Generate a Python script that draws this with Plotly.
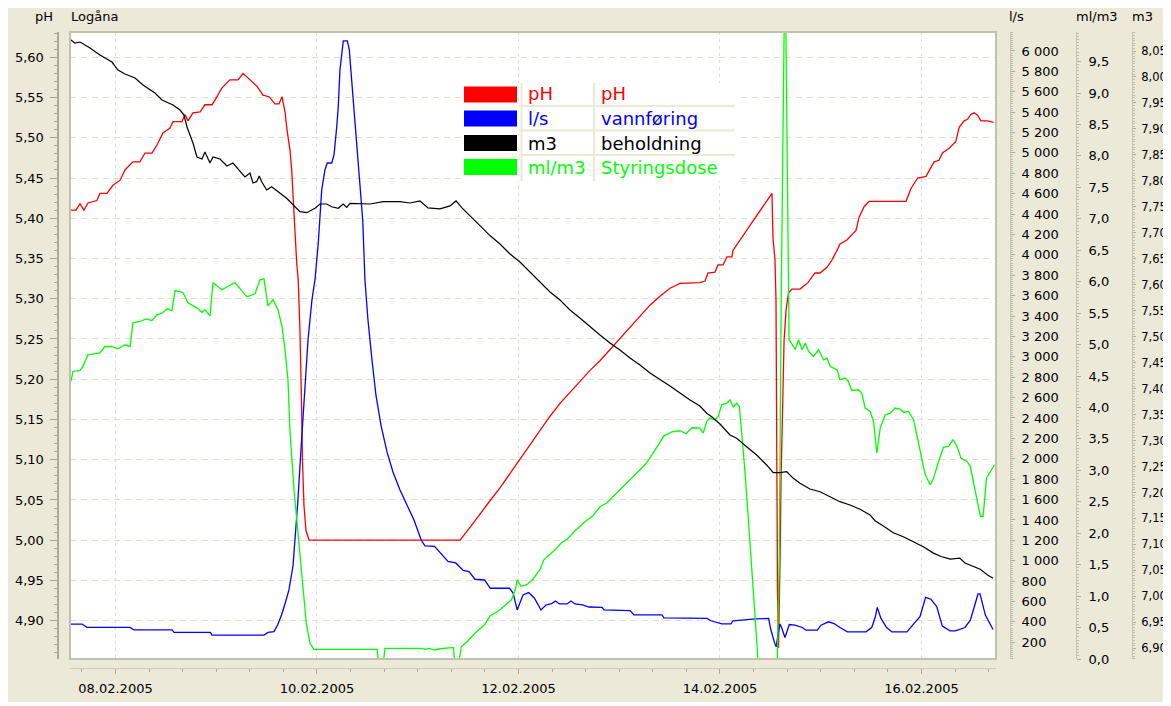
import numpy as np
import pandas as pd
import plotly.graph_objects as go

START = pd.Timestamp("2005-02-07")

# ---------------- data (time in days since 07.02.2005 00:00) ----------------
ph_days = [0.548, 0.608, 0.648, 0.687, 0.727, 0.777, 0.816, 0.846, 0.916, 0.975, 1.045, 1.094, 1.174, 1.243,
           1.293, 1.362, 1.412, 1.471, 1.541, 1.571, 1.660, 1.690, 1.720, 1.769, 1.839, 1.888, 1.958, 2.007,
           2.057, 2.136, 2.216, 2.266, 2.335, 2.404, 2.464, 2.524, 2.583, 2.623, 2.653, 2.683, 2.702, 2.732,
           2.749, 2.765, 2.782, 2.799, 2.814, 2.831, 2.846, 2.856, 2.871, 2.891, 2.921, 4.420, 4.519, 4.618,
           4.717, 4.816, 4.916, 5.015, 5.114, 5.213, 5.313, 5.412, 5.511, 5.610, 5.710, 5.809, 5.908, 6.007,
           6.107, 6.206, 6.305, 6.404, 6.504, 6.603, 6.752, 6.801, 6.851, 6.881, 6.950, 6.980, 7.030, 7.069,
           7.119, 7.129, 7.298, 7.516, 7.526, 7.546, 7.556, 7.561, 7.571, 7.581, 7.591, 7.596, 7.606, 7.621,
           7.636, 7.656, 7.670, 7.680, 7.712, 7.794, 7.844, 7.873, 7.943, 7.992, 8.062, 8.111, 8.161, 8.191,
           8.260, 8.320, 8.350, 8.380, 8.429, 8.479, 8.846, 8.896, 8.962, 9.045, 9.125, 9.174, 9.208, 9.274,
           9.340, 9.374, 9.424, 9.457, 9.490, 9.523, 9.556, 9.590, 9.656, 9.715]
ph_vals = [5.410, 5.410, 5.418, 5.410, 5.419, 5.421, 5.422, 5.431, 5.431, 5.441, 5.447, 5.460, 5.470, 5.470,
           5.481, 5.481, 5.491, 5.506, 5.512, 5.520, 5.520, 5.529, 5.521, 5.531, 5.532, 5.541, 5.541, 5.551,
           5.562, 5.572, 5.572, 5.580, 5.572, 5.564, 5.553, 5.551, 5.542, 5.542, 5.551, 5.532, 5.510, 5.485,
           5.460, 5.419, 5.376, 5.344, 5.323, 5.261, 5.174, 5.099, 5.043, 5.012, 5.000, 5.000, 5.016, 5.033,
           5.049, 5.065, 5.083, 5.102, 5.119, 5.136, 5.154, 5.170, 5.184, 5.197, 5.211, 5.223, 5.237, 5.251,
           5.264, 5.278, 5.292, 5.303, 5.313, 5.319, 5.320, 5.320, 5.322, 5.332, 5.333, 5.342, 5.342, 5.352,
           5.352, 5.360, 5.391, 5.431, 5.376, 5.348, 5.298, 5.093, 4.937, 4.866, 4.925, 4.975, 5.074, 5.186,
           5.248, 5.286, 5.298, 5.307, 5.312, 5.312, 5.317, 5.320, 5.332, 5.332, 5.339, 5.348, 5.360, 5.368,
           5.373, 5.381, 5.385, 5.401, 5.414, 5.421, 5.421, 5.437, 5.450, 5.452, 5.470, 5.472, 5.481, 5.487,
           5.495, 5.513, 5.521, 5.523, 5.529, 5.531, 5.528, 5.521, 5.521, 5.519]

flow_days = [0.555, 0.667, 0.717, 1.144, 1.184, 1.561, 1.581, 1.943, 1.958, 2.474, 2.514, 2.573, 2.609, 2.648,
             2.685, 2.722, 2.762, 2.782, 2.811, 2.841, 2.871, 2.911, 2.950, 2.980, 3.013, 3.030, 3.047, 3.079,
             3.102, 3.146, 3.169, 3.196, 3.211, 3.228, 3.261, 3.301, 3.321, 3.344, 3.367, 3.394, 3.427, 3.454,
             3.476, 3.506, 3.546, 3.585, 3.635, 3.695, 3.754, 3.824, 3.893, 3.963, 4.034, 4.072, 4.167, 4.225,
             4.300, 4.377, 4.452, 4.509, 4.568, 4.664, 4.720, 4.911, 4.948, 4.987, 5.006, 5.045, 5.101, 5.159,
             5.223, 5.273, 5.330, 5.367, 5.406, 5.481, 5.521, 5.561, 5.636, 5.700, 5.829, 5.849, 6.107, 6.146,
             6.424, 6.444, 6.871, 6.910, 7.019, 7.109, 7.129, 7.258, 7.353, 7.483, 7.502, 7.539, 7.558, 7.576,
             7.596, 7.615, 7.645, 7.688, 7.744, 7.818, 7.853, 7.966, 8.002, 8.078, 8.132, 8.191, 8.264, 8.449,
             8.506, 8.542, 8.561, 8.598, 8.654, 8.707, 8.856, 8.912, 8.985, 9.041, 9.094, 9.152, 9.207, 9.283,
             9.337, 9.432, 9.486, 9.561, 9.581, 9.634, 9.710]
flow_vals = [379, 379, 346, 346, 321, 321, 297, 297, 271, 271, 297, 304, 370, 468,
             585, 713, 948, 1203, 1596, 2086, 2577, 3165, 3558, 3754, 4117, 4372, 4637, 4833,
             4901, 4901, 4980, 5255, 5451, 5814, 6098, 6098, 6010, 5716, 5421, 5127, 4735, 4342,
             3754, 3361, 2969, 2626, 2331, 2067, 1870, 1694, 1547, 1400, 1203, 1145, 1141, 1076,
             993, 978, 904, 894, 818, 811, 730, 730, 681, 517, 566, 664, 687, 632,
             517, 566, 580, 605, 576, 576, 605, 576, 566, 546, 542, 517, 510, 468,
             468, 440, 434, 411, 380, 380, 411, 425, 430, 434, 335, 204, 155, 281,
             380, 335, 247, 374, 368, 345, 319, 319, 368, 401, 384, 345, 302, 302,
             345, 450, 542, 434, 345, 302, 302, 368, 450, 641, 622, 549, 359, 312,
             312, 345, 419, 674, 674, 467, 325]

stock_days = [0.548, 0.598, 0.648, 0.747, 0.846, 0.965, 1.025, 1.094, 1.194, 1.273, 1.392, 1.462, 1.571, 1.640,
              1.680, 1.710, 1.769, 1.809, 1.859, 1.888, 1.938, 1.968, 2.037, 2.107, 2.166, 2.236, 2.285, 2.335,
              2.365, 2.401, 2.427, 2.451, 2.501, 2.550, 2.616, 2.699, 2.765, 2.831, 2.898, 2.980, 3.030, 3.096,
              3.146, 3.211, 3.261, 3.295, 3.328, 3.427, 3.526, 3.658, 3.824, 3.923, 4.022, 4.102, 4.221, 4.320,
              4.380, 4.439, 4.519, 4.618, 4.717, 4.816, 4.916, 5.015, 5.114, 5.213, 5.313, 5.412, 5.511, 5.610,
              5.710, 5.809, 5.908, 6.007, 6.107, 6.206, 6.305, 6.404, 6.504, 6.603, 6.702, 6.801, 6.868, 6.918,
              7.000, 7.099, 7.166, 7.265, 7.364, 7.463, 7.529, 7.596, 7.662, 7.728, 7.794, 7.893, 7.993, 8.092,
              8.191, 8.290, 8.390, 8.489, 8.539, 8.621, 8.720, 8.820, 8.919, 9.018, 9.119, 9.194, 9.286, 9.379,
              9.432, 9.508, 9.583, 9.656, 9.710]
stock_vals = [8.0725, 8.0654, 8.0673, 8.0558, 8.0423, 8.0288, 8.0134, 8.0057, 7.9980, 7.9845, 7.9691, 7.9557,
              7.9460, 7.9364, 7.9268, 7.9037, 7.8729, 7.8459, 7.8421, 7.8555, 7.8344, 7.8459, 7.8421, 7.8286,
              7.8344, 7.8190, 7.8074, 7.8151, 7.7959, 7.7984, 7.8093, 7.7984, 7.7824, 7.7887, 7.7791, 7.7664,
              7.7535, 7.7406, 7.7387, 7.7472, 7.7554, 7.7554, 7.7502, 7.7472, 7.7554, 7.7490, 7.7568, 7.7568,
              7.7554, 7.7599, 7.7599, 7.7574, 7.7612, 7.7479, 7.7460, 7.7517, 7.7613, 7.7479, 7.7332, 7.7139,
              7.6947, 7.6784, 7.6592, 7.6438, 7.6245, 7.6053, 7.5860, 7.5706, 7.5513, 7.5360, 7.5186, 7.5032,
              7.4878, 7.4743, 7.4589, 7.4455, 7.4302, 7.4185, 7.4050, 7.3915, 7.3781, 7.3665, 7.3525, 7.3459,
              7.3319, 7.3107, 7.3043, 7.2882, 7.2722, 7.2530, 7.2381, 7.2381, 7.2400, 7.2273, 7.2177, 7.2067,
              7.2015, 7.1919, 7.1823, 7.1759, 7.1677, 7.1567, 7.1457, 7.1355, 7.1226, 7.1149, 7.1053, 7.0956,
              7.0833, 7.0767, 7.0717, 7.0737, 7.0642, 7.0575, 7.0523, 7.0413, 7.0350]

dose_days = [0.558, 0.578, 0.648, 0.677, 0.727, 0.846, 0.896, 0.965, 1.025, 1.094, 1.144, 1.174, 1.243, 1.303,
             1.362, 1.412, 1.471, 1.511, 1.561, 1.591, 1.670, 1.720, 1.809, 1.859, 1.888, 1.938, 1.968, 2.057,
             2.186, 2.305, 2.385, 2.434, 2.474, 2.514, 2.563, 2.613, 2.653, 2.683, 2.712, 2.732, 2.772, 2.817,
             2.856, 2.894, 2.931, 2.970, 3.596, 3.615, 3.655, 3.675, 4.034, 4.072, 4.112, 4.167, 4.225, 4.336,
             4.355, 4.368, 4.405, 4.432, 4.489, 4.568, 4.664, 4.720, 4.797, 4.873, 4.931, 4.968, 4.987, 5.025,
             5.082, 5.139, 5.213, 5.253, 5.311, 5.367, 5.425, 5.481, 5.561, 5.660, 5.739, 5.809, 5.878, 5.958,
             6.027, 6.107, 6.176, 6.256, 6.325, 6.385, 6.444, 6.524, 6.603, 6.662, 6.722, 6.801, 6.834, 6.868,
             6.901, 6.950, 6.983, 7.017, 7.067, 7.099, 7.132, 7.166, 7.192, 7.216, 7.249, 7.298, 7.348, 7.381,
             7.568, 7.588, 7.608, 7.625, 7.638, 7.653, 7.660, 7.665, 7.673, 7.681, 7.686, 7.698, 7.747, 7.780,
             7.814, 7.847, 7.880, 7.929, 7.979, 8.029, 8.062, 8.095, 8.128, 8.162, 8.191, 8.241, 8.274, 8.308,
             8.374, 8.407, 8.441, 8.491, 8.524, 8.557, 8.590, 8.640, 8.690, 8.739, 8.789, 8.822, 8.872, 8.921,
             8.971, 9.037, 9.087, 9.120, 9.170, 9.219, 9.269, 9.313, 9.353, 9.392, 9.452, 9.485, 9.518, 9.552,
             9.585, 9.612, 9.645, 9.685, 9.724]
dose_vals = [4.413, 4.572, 4.588, 4.651, 4.837, 4.869, 4.969, 4.969, 4.932, 4.996, 4.969, 5.346, 5.367, 5.409,
             5.382, 5.473, 5.505, 5.568, 5.541, 5.859, 5.828, 5.664, 5.584, 5.510, 5.553, 5.457, 5.982, 5.870,
             5.987, 5.759, 5.807, 6.029, 6.045, 5.616, 5.712, 5.553, 5.287, 4.917, 4.440, 3.618, 2.691, 1.901,
             1.262, 0.568, 0.249, 0.154, 0.154, -0.100, -0.100, 0.170, 0.170, 0.154, 0.170, 0.143, 0.163, 0.185,
             0.185, -0.100, -0.100, 0.195, 0.275, 0.410, 0.545, 0.688, 0.758, 0.863, 0.942, 1.101, 1.260, 1.155,
             1.181, 1.260, 1.421, 1.581, 1.661, 1.740, 1.849, 1.901, 2.039, 2.183, 2.278, 2.420, 2.484, 2.611,
             2.723, 2.850, 2.961, 3.088, 3.247, 3.407, 3.549, 3.613, 3.629, 3.581, 3.677, 3.672, 3.592, 3.777,
             3.831, 3.804, 3.856, 4.042, 4.069, 4.122, 4.006, 4.069, 4.015, 3.592, 2.956, 1.844, 0.677, -0.100,
             -0.100, 1.559, 5.712, 8.684, 10.200, 10.200, 9.209, 8.732, 7.571, 5.712, 5.076, 5.049, 4.917, 5.076,
             4.917, 5.024, 4.890, 4.810, 4.917, 4.758, 4.785, 4.651, 4.626, 4.599, 4.440, 4.467, 4.413, 4.270,
             4.281, 4.228, 3.990, 3.936, 3.777, 3.274, 3.672, 3.883, 3.910, 3.990, 3.974, 3.920, 3.936, 3.804,
             3.433, 2.929, 2.770, 2.877, 3.141, 3.370, 3.379, 3.486, 3.379, 3.195, 3.141, 3.061, 2.797, 2.532,
             2.266, 2.266, 2.877, 2.982, 3.089]

legend_units = ["pH", "l/s", "m3", "ml/m3"]
legend_names = ["pH", "vannføring", "beholdning", "Styringsdose"]
legend_colors = ["#FF0000", "#0000FF", "#000000", "#00FF00"]


def to_time(days):
    return START + pd.to_timedelta(np.array(days), unit="D")


# ---------------- geometry helpers (layout only) ----------------
# the page body adds an 8px offset; helpers take page pixel positions
OFF = 8
W, H = 1163, 698
ML, MR, MT, MB = 32, 20, 24, 38
IW, IH = W - ML - MR, H - MT - MB


def fx(px):
    return (px - OFF - ML) / IW


def fy(py):
    return (H - MB - (py - OFF)) / IH


FONT = "DejaVu Sans"
BEIGE = "#ECE9D8"
AXC = "#ACA899"
GRID = "#E2DDC8"

fig = go.Figure()
fig.add_trace(go.Scatter(x=to_time(stock_days), y=stock_vals, yaxis="y4", mode="lines",
                         line=dict(color=legend_colors[2], width=1.2), name="beholdning"))
fig.add_trace(go.Scatter(x=to_time(flow_days), y=flow_vals, yaxis="y2", mode="lines",
                         line=dict(color=legend_colors[1], width=1.3), name="vannføring"))
fig.add_trace(go.Scatter(x=to_time(ph_days), y=ph_vals, yaxis="y", mode="lines",
                         line=dict(color=legend_colors[0], width=1.3), name="pH"))
fig.add_trace(go.Scatter(x=to_time(dose_days), y=dose_vals, yaxis="y3", mode="lines",
                         line=dict(color=legend_colors[3], width=1.3), name="Styringsdose"))

ydom = [fy(659), 1]
tickfont = dict(family=FONT, size=13, color="#000000")

fig.update_layout(
    width=W, height=H,
    margin=dict(l=ML, r=MR, t=MT, b=MB, pad=0, autoexpand=False),
    paper_bgcolor=BEIGE, plot_bgcolor="#FFFFFF",
    showlegend=False,
    separators=", ",
    xaxis=dict(
        domain=[fx(70), fx(996)], anchor="free", position=0, automargin=False,
        type="date",
        range=["2005-02-07 13:10", "2005-02-16 17:45"],
        tick0="2005-02-08", dtick=172800000, tickformat="%d.%m.%Y",
        ticks="outside", ticklen=5, tickcolor=AXC, tickwidth=1,
        showline=True, linecolor="#D0CCBA", linewidth=1,
        showgrid=True, gridcolor=GRID, griddash="3px,4px", gridwidth=1,
        zeroline=False, tickfont=tickfont, ticklabelstandoff=3,
        minor=dict(dtick=28800000, tick0="2005-02-08", ticks="outside", ticklen=3,
                   tickcolor=AXC, showgrid=False),
    ),
    yaxis=dict(
        domain=ydom, anchor="free", position=fx(57.5), side="left", automargin=False,
        range=[4.8524, 5.6314], tick0=4.9, dtick=0.05, tickformat=".2f",
        ticks="outside", ticklen=7, tickcolor=AXC,
        showline=True, linecolor=AXC, linewidth=2,
        showgrid=True, gridcolor=GRID, griddash="6px,5px", gridwidth=1,
        zeroline=False, tickfont=tickfont, ticklabelstandoff=3,
        minor=dict(dtick=0.01, ticks="outside", ticklen=3, tickcolor=AXC, showgrid=False),
    ),
    yaxis2=dict(
        domain=ydom, overlaying="y", anchor="free", position=fx(1010), side="right", automargin=False,
        range=[36, 6186], tick0=0, dtick=200, tickformat=",.0f", separatethousands=True,
        ticks="outside", ticklen=4, tickcolor=AXC,
        showline=True, linecolor="#C8C4B2", linewidth=1, showgrid=False, zeroline=False,
        tickfont=tickfont, ticklabelstandoff=4,
        minor=dict(dtick=20, ticks="outside", ticklen=2, tickcolor="#C0BCA8", showgrid=False),
    ),
    yaxis3=dict(
        domain=ydom, overlaying="y", anchor="free", position=fx(1076), side="right", automargin=False,
        range=[0, 9.97], tick0=0, dtick=0.5, tickformat=".1f",
        ticks="outside", ticklen=4, tickcolor=AXC,
        showline=True, linecolor="#C8C4B2", linewidth=1, showgrid=False, zeroline=False,
        tickfont=tickfont, ticklabelstandoff=5,
        minor=dict(dtick=0.05, ticks="outside", ticklen=2, tickcolor="#C0BCA8", showgrid=False),
    ),
    yaxis4=dict(
        domain=ydom, overlaying="y", anchor="free", position=fx(1132), side="right", automargin=False,
        range=[6.8794, 8.0866], tick0=6.9, dtick=0.05, tickformat=".2f",
        ticks="outside", ticklen=3, tickcolor=AXC,
        showline=True, linecolor="#C8C4B2", linewidth=1, showgrid=False, zeroline=False,
        tickfont=dict(family=FONT, size=11.5, color="#000000"), ticklabelstandoff=3,
        minor=dict(dtick=0.005, ticks="outside", ticklen=2, tickcolor="#C0BCA8", showgrid=False),
    ),
)

shapes = []
# white strip at the bottom edge
shapes.append(dict(type="rect", xref="paper", yref="paper", x0=fx(0), x1=fx(1200), y0=fy(702), y1=fy(720),
                   fillcolor="#FFFFFF", line=dict(width=0), layer="below"))
# plot frame
shapes.append(dict(type="rect", xref="x domain", yref="y domain", x0=0, x1=1, y0=0, y1=1,
                   line=dict(color="#C4C0AE", width=2), layer="above"))
# legend table
shapes.append(dict(type="rect", xref="paper", yref="paper", x0=fx(461), x1=fx(736), y0=fy(181), y1=fy(83),
                   fillcolor="#FFFFFF", line=dict(width=0), layer="above"))
row_tops = [86.5, 110.5, 135, 159]
row_mid = [94, 118.5, 143, 168]
for i, c in enumerate(legend_colors):
    shapes.append(dict(type="rect", xref="paper", yref="paper", x0=fx(464), x1=fx(517),
                       y0=fy(row_tops[i] + 16), y1=fy(row_tops[i]),
                       fillcolor=c, line=dict(width=0), layer="above"))
for ysep in [106, 130.5, 155]:
    shapes.append(dict(type="line", xref="paper", yref="paper", x0=fx(519), x1=fx(735), y0=fy(ysep), y1=fy(ysep),
                       line=dict(color=BEIGE, width=2), layer="above"))
for xsep in [521.5, 594]:
    shapes.append(dict(type="line", xref="paper", yref="paper", x0=fx(xsep), x1=fx(xsep), y0=fy(83), y1=fy(181),
                       line=dict(color=BEIGE, width=2), layer="above"))

annotations = []
for i in range(4):
    annotations.append(dict(xref="paper", yref="paper", x=fx(526), y=fy(row_mid[i]), xanchor="left",
                            yanchor="middle", text=legend_units[i], showarrow=False,
                            font=dict(family=FONT, size=18, color=legend_colors[i])))
    annotations.append(dict(xref="paper", yref="paper", x=fx(599), y=fy(row_mid[i]), xanchor="left",
                            yanchor="middle", text=legend_names[i], showarrow=False,
                            font=dict(family=FONT, size=18, color=legend_colors[i])))

hdr = dict(family=FONT, size=13, color="#000000")
for txt, px, anchor in [("pH", 55, "right"), ("Logåna", 69, "left"), ("l/s", 1007, "left"),
                        ("ml/m3", 1074, "left"), ("m3", 1130, "left")]:
    annotations.append(dict(xref="paper", yref="paper", x=fx(px), y=fy(16), xanchor=anchor, yanchor="middle",
                            text=txt, showarrow=False, font=hdr))

fig.update_layout(shapes=shapes, annotations=annotations)
fig.write_html("out.html")
